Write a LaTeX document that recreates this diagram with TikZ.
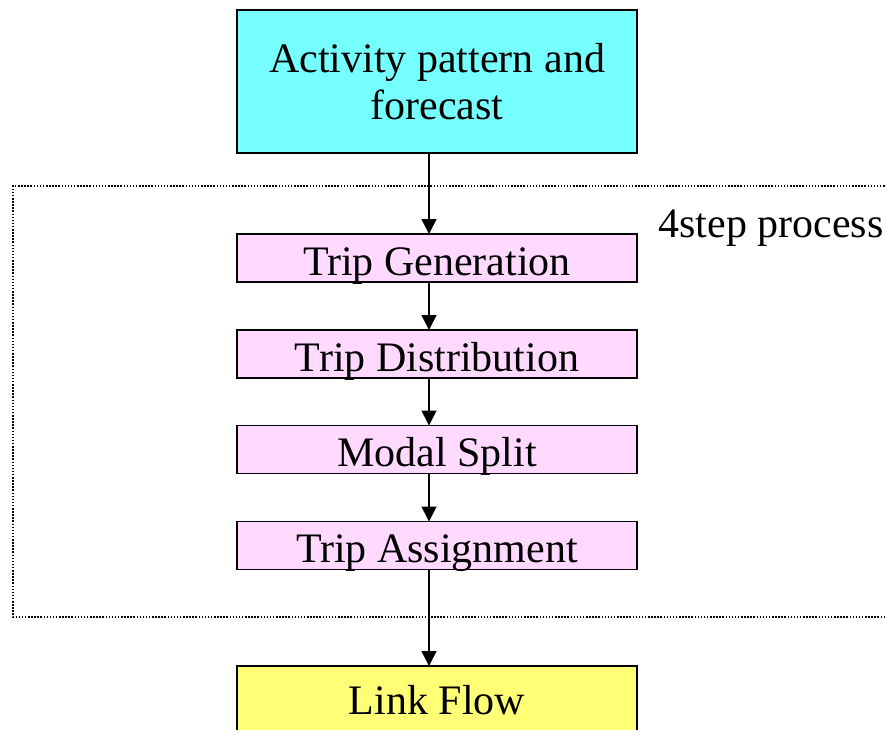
\documentclass[tikz,border=0pt]{standalone}
\usepackage{fontspec}
\setmainfont{Liberation Serif}
\usetikzlibrary{positioning,arrows.meta}

\definecolor{actcyan}{RGB}{117,255,255}
\definecolor{steppink}{RGB}{255,217,255}
\definecolor{flowyellow}{RGB}{255,255,117}

\tikzset{
  box/.style={draw, line width=1.5pt, minimum width=400pt, inner sep=0pt,
    outer sep=0pt, font=\fontsize{42}{47}\selectfont, align=center},
  stepbox/.style={box, fill=steppink, minimum height=48pt,
    text height=34pt, text depth=0pt},
  flow/.style={line width=1.6pt, -{Triangle[length=15pt,width=15pt]}},
  frame/.style={line width=1.3pt, dash pattern=on 1.5pt off 1.6pt}
}

\begin{document}
\begin{tikzpicture}[x=1pt,y=-1pt]
\useasboundingbox (0,0) rectangle (886,729);

% input box and the four steps
\node[box, fill=actcyan, minimum height=143pt] (act) at (437,81.5) {Activity pattern and\\forecast};
\node[stepbox, below=81pt of act] (gen) {Trip Generation};
\node[stepbox, below=48pt of gen] (dist) {Trip Distribution};
\node[stepbox, below=47.5pt of dist] (modal) {Modal Split};
\node[stepbox, below=48pt of modal] (assign) {Trip Assignment};
\node[box, fill=flowyellow, minimum height=96pt, text height=0pt, text depth=0pt,
  below=96.5pt of assign] (link) {Link Flow};

% dotted frame round the steps
\draw[frame] (900,186) -| (13,617) -- (900,617);
\node[anchor=base west, font=\fontsize{42}{47}\selectfont] (lbl) at (655,237) {4step process};

% arrows
\coordinate (axis) at (429,0);
\draw[flow] (act.south -| axis) -- (gen.north -| axis);
\draw[flow] (gen.south -| axis) -- (dist.north -| axis);
\draw[flow] (dist.south -| axis) -- (modal.north -| axis);
\draw[flow] (modal.south -| axis) -- (assign.north -| axis);
\draw[flow] (assign.south -| axis) -- (link.north -| axis);
\end{tikzpicture}
\end{document}
